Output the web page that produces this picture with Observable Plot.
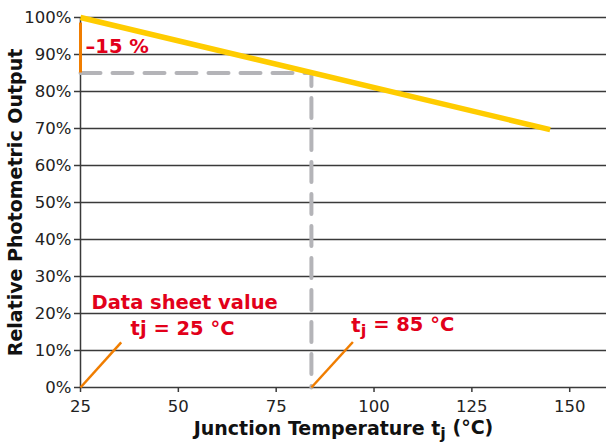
<!DOCTYPE html>
<html>
<head>
<meta charset="utf-8">
<script src="https://cdn.jsdelivr.net/npm/d3@7"></script>
<script src="https://cdn.jsdelivr.net/npm/@observablehq/plot@0.6"></script>
<style>
  html, body { margin: 0; padding: 0; background: #fff; }
  svg { display: block; }
</style>
</head>
<body>
<div id="chart"></div>
<script>
// ---- data ----
const temperatures = [25, 145];          // °C
const relOutput = [100, 69.7];           // %
const xTicks = [25, 50, 75, 100, 125, 150];
const yTicks = [0, 10, 20, 30, 40, 50, 60, 70, 80, 90, 100];
const refTemp = 84;                      // vertical dashed reference
const refOutput = 85;                    // horizontal dashed reference
const dropTop = 98.5;                    // top of -15 % bracket
const leaderLines = [
  {x1: 25, y1: 0, x2: 35.4, y2: 12.2},
  {x1: 84, y1: 0, x2: 94.6, y2: 12.3}
];
const annotations = [
  {x: 26.3, y: 92, text: "–15 %"},
  {x: 27.8, y: 23, text: "Data sheet value"},
  {x: 37.8, y: 16, text: "tj = 25 °C"},
  {x: 94.2, y: 16.8, text: "t_j = 85 °C"}
];
const xLabel = "Junction Temperature t_j (°C)";
const yLabel = "Relative Photometric Output";

const curve = temperatures.map((t, i) => ({t, v: relOutput[i]}));
const FONT = "DejaVu Sans";
const RED = "#e2001a", ORANGE = "#f07d00", YELLOW = "#ffcc00", GRAY = "#b4b4b8";

const chart = Plot.plot({
  width: 607,
  height: 447,
  marginLeft: 80,
  marginRight: 1,
  marginTop: 17,
  marginBottom: 60,
  style: {fontFamily: FONT, background: "#fff"},
  x: {domain: [25, 159.4], ticks: xTicks, label: null},
  y: {domain: [0, 100], ticks: yTicks, label: null},
  marks: [
    Plot.ruleY(yTicks, {stroke: "#3a3a3a", strokeWidth: 1.5}),
    Plot.axisY({ticks: yTicks, tickFormat: d => d + "%", tickSize: 6, tickPadding: 3,
      fontSize: 16.5, stroke: "#3a3a3a", strokeWidth: 1.5, color: "#222", label: null}),
    Plot.axisX({ticks: xTicks, tickSize: 5, tickPadding: 8, fontSize: 16.5,
      stroke: "#3a3a3a", strokeWidth: 1.5, color: "#222", label: null}),
    Plot.ruleX([25], {stroke: "#3a3a3a", strokeWidth: 1.5}),
    // dashed reference lines
    Plot.line([{x: 25, y: refOutput}, {x: refTemp, y: refOutput}, {x: refTemp, y: 0}],
      {x: "x", y: "y", stroke: GRAY, strokeWidth: 4, strokeDasharray: "20,12"}),
    // -15 % bracket
    Plot.ruleX([25], {y1: refOutput, y2: dropTop, stroke: ORANGE, strokeWidth: 3}),
    // leader lines
    Plot.link(leaderLines, {x1: "x1", y1: "y1", x2: "x2", y2: "y2", stroke: ORANGE, strokeWidth: 2.5}),
    // main curve
    Plot.line(curve, {x: "t", y: "v", stroke: YELLOW, strokeWidth: 5.5, strokeLinecap: "butt"}),
    // annotations
    Plot.text(annotations, {x: "x", y: "y", text: "text", textAnchor: "start",
      fill: RED, fontSize: 19.5, fontWeight: "bold"}),
    // axis titles
    Plot.text([xLabel], {frameAnchor: "bottom", dy: 47, text: d => d, fontSize: 19,
      fontWeight: "bold", fill: "#111", textAnchor: "middle"}),
    Plot.text([yLabel], {frameAnchor: "left", dx: -65, rotate: -90, text: d => d, fontSize: 19,
      fontWeight: "bold", fill: "#111", textAnchor: "middle"})
  ]
});

// subscript handling for "t_j"
d3.select(chart).selectAll("text").each(function() {
  const el = d3.select(this);
  const s = this.textContent;
  if (!s.includes("t_j")) return;
  const [before, after] = s.split("t_j");
  el.text(null);
  if (before) el.append("tspan").text(before);
  el.append("tspan").text("t");
  el.append("tspan").attr("dy", "0.28em").attr("font-size", "85%").text("j");
  el.append("tspan").attr("dy", "-0.28em").text(after);
});

document.getElementById("chart").appendChild(chart);
</script>
</body>
</html>
